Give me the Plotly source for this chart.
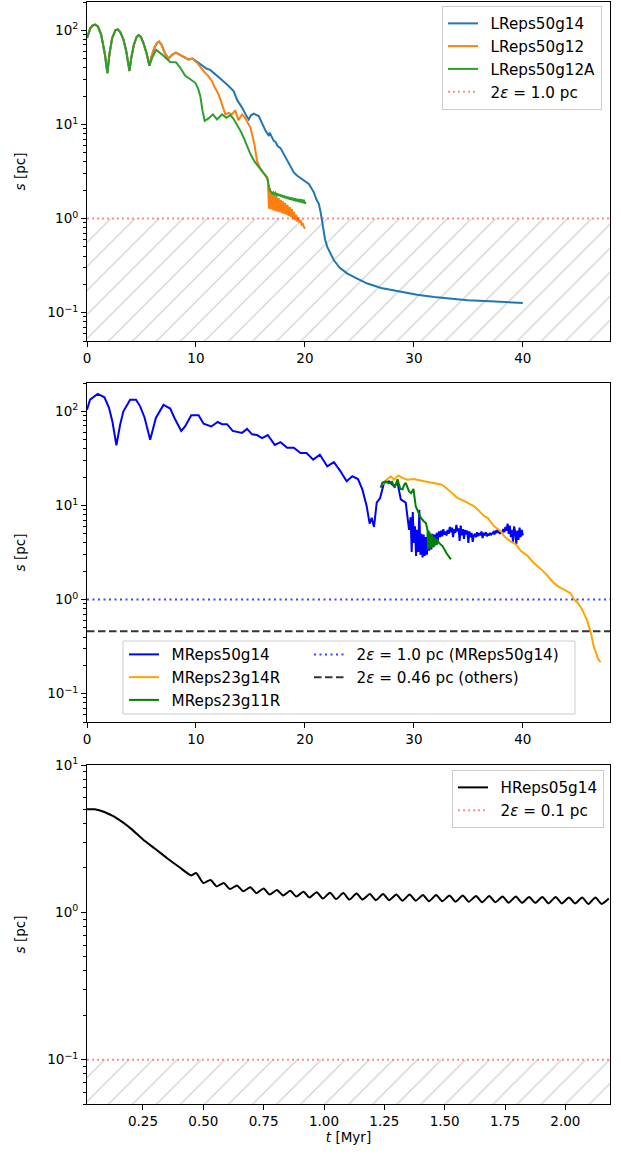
import numpy as np
import plotly.graph_objects as go

W, H = 621, 1157
FONT = "DejaVu Sans"

# ---------------- Top panel data (L runs) ----------------
early_t = [0.0, 0.3, 0.5, 0.74, 1.0, 1.3, 1.65, 1.87, 2.05, 2.3, 2.6, 2.82, 3.05, 3.35, 3.6, 3.78, 3.9,
           4.05, 4.3, 4.55, 4.75, 4.95, 5.2, 5.45, 5.6, 5.73]
early_s = [83, 105, 112, 115, 110, 90, 55, 35, 55, 82, 100, 102, 96, 80, 60, 45, 37,
           50, 70, 85, 89, 85, 72, 58, 48, 42]

mid_t = [5.9, 6.2, 6.45, 6.62, 6.85, 7.15, 7.48, 7.8, 8.16, 8.5, 8.9, 9.3]
mid_s = [52, 66, 74, 76, 70, 57, 50, 55, 58, 55, 52, 49]

t_L14 = early_t + mid_t + [9.69, 10.0, 10.4, 11.0, 11.3, 11.7, 12.2, 12.85, 13.2, 13.46, 13.8, 14.23, 14.6,
                           14.84, 15.05, 15.3, 15.76, 16.1, 16.4, 16.7, 16.77, 16.9, 17.14, 17.3, 17.5, 17.76,
                           18.0, 18.37, 18.7, 18.98, 19.3, 19.6, 19.9, 20.36, 20.6, 20.82, 21.05, 21.28, 21.45,
                           21.55, 21.68, 21.85, 22.05, 22.36, 22.66, 23.2, 23.9, 24.8, 25.73, 27.0, 28.8, 30.3,
                           31.86, 33.5, 34.93, 36.5, 38.0, 40.0]
s_L14 = early_s + mid_s + [50, 47, 43, 39, 38, 35, 31, 26.6, 24, 22.6, 18, 15.1, 12.5,
                           11.3, 12.5, 13.0, 12.3, 10, 8.5, 7.55, 8.2, 7.6, 6.7, 6.5, 5.9, 5.6,
                           5.0, 4.1, 3.5, 3.09, 2.85, 2.69, 2.52, 2.33, 2.1, 1.9, 1.6, 1.43, 1.15,
                           0.98, 0.75, 0.6, 0.5, 0.42, 0.36, 0.3, 0.26, 0.23, 0.204, 0.183, 0.166, 0.155,
                           0.147, 0.141, 0.1355, 0.133, 0.13, 0.127]

t_L12 = early_t + mid_t + [9.69, 10.2, 10.7, 11.1, 11.47, 11.7, 12.08, 12.39, 12.7, 13.0, 13.3, 13.6, 13.9,
                           14.23, 14.5, 14.8, 15.0, 15.36, 15.6, 15.85, 16.07, 16.3, 16.47,
                           16.6, 16.7, 16.8, 16.9, 17.0, 17.1, 17.2, 17.3, 17.4, 17.5, 17.6, 17.7, 17.8,
                           17.9, 18.0, 18.1, 18.2, 18.3, 18.4, 18.5, 18.6, 18.7, 18.8, 18.9, 19.0, 19.1,
                           19.2, 19.3, 19.4, 19.5, 19.6, 19.7, 19.8, 19.9, 20.0]
s_L12 = early_s + mid_s + [50, 44, 36.8, 33, 28.8, 25, 20.9, 16.4, 12.8, 13.3, 12.8, 14.1, 11.1,
                           12.8, 11.8, 10.2, 9.25, 6.2, 4.1, 3.5, 3.22, 3.0, 2.74,
                           2.6, 1.27, 2.1, 1.25, 1.9, 1.22, 1.8, 1.2, 1.72, 1.18, 1.65, 1.17, 1.58,
                           1.14, 1.52, 1.12, 1.46, 1.1, 1.4, 1.07, 1.33, 1.04, 1.26, 1.0, 1.18, 0.96,
                           1.1, 0.93, 1.03, 0.9, 0.96, 0.86, 0.88, 0.82, 0.78]

t_L12A = early_t + [6.0, 6.35, 7.0, 7.63, 8.16, 8.56, 9.0, 9.5, 9.94, 10.2, 10.4, 10.6, 10.8, 11.16, 11.56,
                    11.93, 12.39, 12.79, 13.16, 13.45, 13.77, 14.1, 14.38, 14.7, 15.0, 15.4, 15.76, 16.1,
                    16.53, 16.7, 16.78, 16.9, 17.0, 17.1, 17.2, 17.3, 17.4, 17.5, 17.6, 17.7, 17.8, 17.9,
                    18.0, 18.1, 18.2, 18.3, 18.4, 18.5, 18.6, 18.7, 18.8, 18.9, 19.0, 19.1, 19.2, 19.3,
                    19.4, 19.5, 19.6, 19.7, 19.8, 19.9, 20.0, 20.06]
s_L12A = early_s + [52, 62, 54, 46, 45.8, 40, 33, 30, 27.7, 24, 20, 14, 10.9, 11.6, 12.8,
                    11.3, 12.8, 11.8, 12.6, 11.5, 10.0, 8.5, 7.25, 5.9, 4.84, 4.0, 3.5, 3.15,
                    2.74, 2.3, 1.98, 1.92, 1.84, 1.9, 1.8, 1.87, 1.77, 1.84, 1.74, 1.81, 1.71, 1.78,
                    1.68, 1.75, 1.65, 1.72, 1.62, 1.7, 1.59, 1.68, 1.57, 1.66, 1.54, 1.64, 1.52, 1.62,
                    1.5, 1.61, 1.48, 1.6, 1.46, 1.58, 1.44, 1.5]
eps_top = 1.0

# ---------------- Middle panel data (M runs) ----------------
t_M50 = [0.0, 0.28, 0.98, 1.6, 2.02, 2.33, 2.7, 3.04, 3.34, 3.96, 4.5, 4.88, 5.28, 5.8, 6.32, 7.02, 7.64,
         8.03, 8.65, 9.0, 9.57, 10.24, 10.7, 11.4, 12.0, 12.4, 12.85, 13.37, 14.23, 14.69, 15.15, 15.61,
         16.07, 16.59, 17.23, 17.76, 18.37, 18.98, 19.6, 20.15, 20.76, 21.37, 22.05, 22.66, 23.27, 23.83,
         24.35, 24.87, 25.27, 25.67, 25.94, 26.13, 26.34, 26.59, 26.9, 27.26, 27.72, 28.18, 28.5, 28.64,
         28.8, 29.25, 29.56, 29.7,
         29.8, 29.9, 30.0, 30.1, 30.2, 30.3, 30.4, 30.5, 30.6, 30.7, 30.8, 30.9, 31.0, 31.1, 31.2, 31.3,
         31.4, 31.5, 31.6, 31.7, 31.8, 31.9, 32.0, 32.1, 32.2, 32.3, 32.4, 32.5, 32.6, 32.7, 32.8, 32.9,
         33.0, 33.1, 33.2, 33.3, 33.4, 33.5, 33.6, 33.7, 33.8, 33.9, 34.0, 34.1, 34.2, 34.3, 34.4, 34.5,
         34.6, 34.7, 34.8, 34.9, 35.0, 35.1, 35.2, 35.3, 35.4, 35.5, 35.6, 35.7, 35.8, 35.9, 36.0, 36.1,
         36.2, 36.3, 36.4, 36.5, 36.6, 36.7, 36.8, 36.9, 37.0, 37.1, 37.2, 37.3, 37.4, 37.5, 37.6, 37.7,
         37.8, 37.9, 38.0, 38.1, 38.2, 38.3, 38.4, 38.5, 38.6, 38.7, 38.8, 38.9, 39.0, 39.1, 39.2, 39.3,
         39.4, 39.5, 39.6, 39.7, 39.8, 39.9, 40.0]
s_M50 = [104, 133, 153, 141, 109, 78, 43.6, 72, 100, 133, 133, 113, 86, 50, 85, 117, 107,
         85, 62, 69, 91, 91, 74, 69, 77, 73, 73, 62, 59, 65, 57, 56,
         52, 56, 44, 47, 41, 41, 36, 36, 30.7, 34.7, 26, 28.8, 23, 18.1,
         20.4, 19.1, 14.8, 9.8, 6.4, 7.4, 5.9, 10.7, 12, 17.4, 18, 16, 17.4, 14.8,
         11.6, 10.7, 5.5, 7.5,
         3.2, 8.5, 4.0, 6.0, 2.9, 5.5, 3.2, 9.0, 3.0, 5.0, 2.8, 4.9, 2.9, 4.6, 3.0, 5.2,
         3.3, 4.8, 3.4, 5.0, 3.6, 4.9, 4.0, 5.1, 4.3, 5.3, 4.6, 5.4, 4.7, 5.6, 4.9, 5.3,
         4.8, 5.5, 5.0, 5.9, 5.2, 5.8, 4.6, 5.6, 5.1, 6.2, 5.3, 5.7, 4.2, 6.1, 4.8, 5.6,
         4.4, 5.5, 4.9, 5.4, 4.0, 5.3, 4.6, 5.1, 4.1, 4.8, 5.0, 4.6, 5.2, 4.7, 5.1, 4.8,
         5.3, 4.5, 5.0, 4.9, 5.2, 4.7, 5.0, 4.8, 5.1, 4.9, 5.0, 5.2, 4.9, 5.4, 5.1, 5.6,
         5.2, 5.0, 5.3, 5.1, 5.6, 5.2, 5.9, 5.4, 6.4, 5.0, 6.1, 4.6, 5.5, 4.1, 6.0, 5.2,
         3.9, 5.4, 4.3, 5.8, 4.6, 5.5, 4.8]

t_M23g14R = [27.1, 27.5, 27.88, 28.18, 28.58, 28.95, 29.4, 30.0, 30.94, 31.86, 32.5, 32.78, 33.2, 33.7,
             34.0, 34.62, 35.2, 35.54, 36.0, 36.46, 36.77, 37.37, 38.0, 38.3, 38.8, 39.37, 39.8, 40.45,
             41.0, 41.7, 42.3, 42.8, 43.2, 43.5, 44.13, 44.4, 44.7, 45.05, 45.4, 45.66, 45.9, 46.1,
             46.27, 46.5, 46.73, 46.9, 47.13]
s_M23g14R = [16.7, 18.8, 20.4, 18.8, 20.8, 19.6, 18.8, 19.1, 18.1, 17.4, 16.7, 16.0, 14.5, 13.1,
             12.0, 11.1, 10.2, 9.8, 8.7, 7.7, 7.4, 6.0, 5.3, 4.7, 4.2, 3.85, 3.3, 2.9,
             2.45, 2.09, 1.77, 1.52, 1.39, 1.33, 1.23, 1.16, 1.0, 0.92, 0.8, 0.695, 0.6, 0.5,
             0.43, 0.32, 0.26, 0.235, 0.216]

t_M23g11R = [26.95, 27.1, 27.4, 27.7, 28.0, 28.24, 28.5, 28.75, 28.96, 29.1, 29.25, 29.56, 29.75, 29.96,
             30.17, 30.4, 30.63, 30.9, 31.1, 31.25, 31.3, 31.35, 31.4, 31.45, 31.5, 31.55, 31.6, 31.65,
             31.7, 31.75, 31.8, 31.85, 31.9, 31.95, 32.0, 32.05, 32.1, 32.17, 32.3, 32.63, 33.0, 33.4]
s_M23g11R = [15.4, 17.4, 18.0, 17.2, 17.8, 15.4, 19.0, 15.0, 14.8, 16.5, 17.4, 14.1, 13.5, 15.0,
             9.8, 8.5, 7.4, 6.8, 6.5, 5.5, 3.4, 5.4, 3.5, 5.2, 3.5, 5.0, 3.6, 4.9,
             3.6, 4.7, 3.7, 4.6, 3.7, 4.5, 3.8, 4.4, 3.8, 4.3, 4.0, 3.7, 3.1, 2.67]
eps_M50 = 1.0
eps_others = 0.46

# ---------------- Bottom panel data (H run) ----------------
t_H = [0.018, 0.05, 0.09, 0.127, 0.2, 0.25, 0.3, 0.35, 0.4, 0.45,
       0.47, 0.50, 0.53, 0.555, 0.585, 0.61, 0.64, 0.665, 0.695, 0.72, 0.75, 0.775, 0.805, 0.83,
       0.86, 0.885, 0.915, 0.94, 0.97, 0.995, 1.025, 1.05, 1.08, 1.105, 1.135, 1.16, 1.19, 1.215,
       1.245, 1.27, 1.30, 1.325, 1.355, 1.38, 1.41, 1.435, 1.465, 1.49, 1.52, 1.545, 1.575, 1.60,
       1.63, 1.655, 1.685, 1.71, 1.74, 1.765, 1.795, 1.82, 1.85, 1.875, 1.905, 1.93, 1.96, 1.985,
       2.015, 2.04, 2.07, 2.095, 2.125, 2.15, 2.18]
s_H = [5.0, 5.0, 4.8, 4.49, 3.7, 3.12, 2.7, 2.33, 2.03, 1.78,
       1.85, 1.58, 1.66, 1.50, 1.58, 1.44, 1.52, 1.39, 1.48, 1.35, 1.45, 1.32, 1.42, 1.30,
       1.40, 1.28, 1.38, 1.26, 1.37, 1.24, 1.36, 1.23, 1.35, 1.22, 1.34, 1.22, 1.33, 1.21,
       1.33, 1.21, 1.32, 1.20, 1.32, 1.20, 1.31, 1.19, 1.31, 1.19, 1.30, 1.18, 1.30, 1.18,
       1.29, 1.17, 1.29, 1.17, 1.28, 1.16, 1.28, 1.16, 1.27, 1.16, 1.27, 1.15, 1.27, 1.15,
       1.26, 1.15, 1.26, 1.14, 1.26, 1.14, 1.24]
eps_H = 0.1

# ---------------- Axis limits ----------------
xlim_LM = [0, 48]
xlim_H = [0.018, 2.185]
ylim_LM = [0.05, 200]
ylim_H = [0.05, 10]

SP = "\u2002"  # small gap between legend line sample and label

fig = go.Figure()

def hatch(xref, yref, xl, ylo, yhi):
    return go.Scatter(x=[xl[0], xl[1], xl[1], xl[0], xl[0]], y=[ylo, ylo, yhi, yhi, ylo],
                      xaxis=xref, yaxis=yref, mode="lines", line=dict(width=0),
                      fill="toself", fillcolor="rgba(0,0,0,0)",
                      fillpattern=dict(shape="/", size=17, solidity=0.08,
                                       fgcolor="rgba(150,150,150,0.85)", bgcolor="rgba(0,0,0,0)"),
                      showlegend=False, hoverinfo="skip")

# Top panel
fig.add_trace(hatch("x", "y", xlim_LM, ylim_LM[0], eps_top))
fig.add_trace(go.Scatter(x=t_L14, y=s_L14, mode="lines", name=SP + "LReps50g14",
                         line=dict(color="#1f77b4", width=2), xaxis="x", yaxis="y",
                         legend="legend", legendgroup="a"))
fig.add_trace(go.Scatter(x=t_L12, y=s_L12, mode="lines", name=SP + "LReps50g12",
                         line=dict(color="#ff7f0e", width=2), xaxis="x", yaxis="y",
                         legend="legend", legendgroup="b"))
fig.add_trace(go.Scatter(x=t_L12A, y=s_L12A, mode="lines", name=SP + "LReps50g12A",
                         line=dict(color="#2ca02c", width=2), xaxis="x", yaxis="y",
                         legend="legend", legendgroup="c"))
fig.add_trace(go.Scatter(x=xlim_LM, y=[eps_top, eps_top], mode="lines", name=SP + "2<i>ε</i> = 1.0 pc",
                         line=dict(color="rgba(255,0,0,0.45)", width=2, dash="2px,3px"),
                         xaxis="x", yaxis="y", legend="legend", legendgroup="d"))

# Middle panel
fig.add_trace(go.Scatter(x=t_M50, y=s_M50, mode="lines", name=SP + "MReps50g14",
                         line=dict(color="#0000ff", width=2), xaxis="x2", yaxis="y2",
                         legend="legend2", legendgroup="e"))
fig.add_trace(go.Scatter(x=t_M23g14R, y=s_M23g14R, mode="lines", name=SP + "MReps23g14R",
                         line=dict(color="#ffa500", width=2), xaxis="x2", yaxis="y2",
                         legend="legend2", legendgroup="f"))
fig.add_trace(go.Scatter(x=t_M23g11R, y=s_M23g11R, mode="lines", name=SP + "MReps23g11R",
                         line=dict(color="#008000", width=2), xaxis="x2", yaxis="y2",
                         legend="legend2", legendgroup="g"))
fig.add_trace(go.Scatter(x=xlim_LM, y=[eps_M50, eps_M50], mode="lines",
                         name=SP + "2<i>ε</i> = 1.0 pc (MReps50g14)",
                         line=dict(color="rgba(0,0,255,0.75)", width=2, dash="2px,3.5px"),
                         xaxis="x2", yaxis="y2", legend="legend3", legendgroup="h"))
fig.add_trace(go.Scatter(x=xlim_LM, y=[eps_others, eps_others], mode="lines",
                         name=SP + "2<i>ε</i> = 0.46 pc (others)",
                         line=dict(color="rgba(0,0,0,0.8)", width=2, dash="7.5px,3.5px"),
                         xaxis="x2", yaxis="y2", legend="legend3", legendgroup="i"))

# Bottom panel
fig.add_trace(hatch("x3", "y3", xlim_H, ylim_H[0], eps_H))
fig.add_trace(go.Scatter(x=t_H, y=s_H, mode="lines", name=SP + "HReps05g14",
                         line=dict(color="black", width=2, shape="spline", smoothing=0.6),
                         xaxis="x3", yaxis="y3", legend="legend4", legendgroup="j"))
fig.add_trace(go.Scatter(x=xlim_H, y=[eps_H, eps_H], mode="lines", name=SP + "2<i>ε</i> = 0.1 pc",
                         line=dict(color="rgba(255,0,0,0.45)", width=2, dash="2px,3px"),
                         xaxis="x3", yaxis="y3", legend="legend4", legendgroup="k"))

xdom = [87 / W, 610 / W]
dom_top = [1 - 341 / H, 1 - 2 / H]
dom_mid = [1 - 722 / H, 1 - 383 / H]
dom_bot = [1 - 1104 / H, 1 - 765 / H]

tickfont = dict(family=FONT, size=13.5, color="black")
base = dict(showline=True, linecolor="black", linewidth=1, mirror=True, ticks="outside",
            ticklen=5, tickwidth=1, tickcolor="black", showgrid=False, zeroline=False,
            tickfont=tickfont, automargin=False)

def minor_vals(lo_exp, hi_exp):
    v = []
    for e in range(lo_exp, hi_exp + 1):
        for m in range(2, 10):
            v.append(m * 10.0 ** e)
    return v

logticks = dict(tickvals=[0.1, 1, 10, 100],
                ticktext=["10<sup>−1</sup>", "10<sup>0</sup>", "10<sup>1</sup>", "10<sup>2</sup>"])
minor = dict(tickmode="array", tickvals=minor_vals(-2, 2), ticks="outside", ticklen=3,
             tickwidth=1, tickcolor="black", showgrid=False)
ytitle = dict(text="<i>s</i> [pc]", font=dict(family=FONT, size=13.5, color="black"), standoff=18)

LEGFONT = dict(family=FONT, size=15.2, color="black")

fig.update_layout(
    width=W, height=H, margin=dict(l=0, r=0, t=0, b=0, autoexpand=False),
    paper_bgcolor="white", plot_bgcolor="white",
    font=dict(family=FONT, size=13.5, color="black"),
    xaxis=dict(base, domain=xdom, anchor="y", range=xlim_LM, tickvals=[0, 10, 20, 30, 40]),
    yaxis=dict(base, domain=dom_top, anchor="x", type="log",
               range=[np.log10(ylim_LM[0]), np.log10(ylim_LM[1])], minor=minor, title=ytitle, **logticks),
    xaxis2=dict(base, domain=xdom, anchor="y2", range=xlim_LM, tickvals=[0, 10, 20, 30, 40]),
    yaxis2=dict(base, domain=dom_mid, anchor="x2", type="log",
                range=[np.log10(ylim_LM[0]), np.log10(ylim_LM[1])], minor=minor, title=ytitle, **logticks),
    xaxis3=dict(base, domain=xdom, anchor="y3", range=xlim_H,
                tickvals=[0.25, 0.5, 0.75, 1.0, 1.25, 1.5, 1.75, 2.0], tickformat=".2f",
                title=dict(text="<i>t</i> [Myr]", font=dict(family=FONT, size=13.5, color="black"), standoff=4)),
    yaxis3=dict(base, domain=dom_bot, anchor="x3", type="log",
                range=[np.log10(ylim_H[0]), np.log10(ylim_H[1])], minor=minor, title=ytitle,
                tickvals=[0.1, 1, 10], ticktext=["10<sup>−1</sup>", "10<sup>0</sup>", "10<sup>1</sup>"]),
    legend=dict(x=602 / W, xanchor="right", y=1 - 6 / H, yanchor="top",
                bgcolor="rgba(255,255,255,0.85)", bordercolor="#cccccc", borderwidth=1,
                font=LEGFONT, itemwidth=30, tracegroupgap=0),
    legend2=dict(x=124 / W, xanchor="left", y=1 - 638 / H, yanchor="top",
                 bgcolor="rgba(0,0,0,0)", borderwidth=0,
                 font=LEGFONT, itemwidth=30, tracegroupgap=0),
    legend3=dict(x=309 / W, xanchor="left", y=1 - 638 / H, yanchor="top",
                 bgcolor="rgba(0,0,0,0)", borderwidth=0,
                 font=LEGFONT, itemwidth=30, tracegroupgap=0),
    legend4=dict(x=604 / W, xanchor="right", y=1 - 770 / H, yanchor="top",
                 bgcolor="rgba(255,255,255,0.85)", bordercolor="#cccccc", borderwidth=1,
                 font=LEGFONT, itemwidth=30, tracegroupgap=0),
    shapes=[dict(type="rect", xref="paper", yref="paper", x0=123 / W, x1=575 / W,
                 y0=1 - 714 / H, y1=1 - 641 / H, line=dict(color="#cccccc", width=1),
                 fillcolor="rgba(255,255,255,0.85)", layer="below")],
)

fig.write_html("out.html")
